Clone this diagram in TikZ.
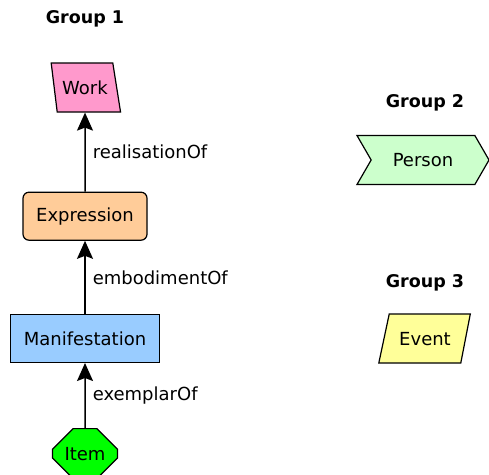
\documentclass[tikz,border=0pt]{standalone}
\usepackage{fontspec}
\setmainfont{DejaVu Sans}
\usepackage{tikz}
\usetikzlibrary{positioning, arrows.meta, shapes.geometric, shapes.symbols, shapes.misc}

\begin{document}
\begin{tikzpicture}[x=1pt, y=1pt, node distance=73pt,
font=\fontsize{18}{21}\selectfont,
box/.style={draw, line width=1.2pt, minimum height=48pt, align=center, inner sep=0pt},
slanted/.style={box, trapezium, text height=13pt, text depth=0pt, inner ysep=18pt},
group/.style={font=\fontsize{17.5}{21}\selectfont\bfseries},
arrow/.style={line width=1.5pt, -{Stealth[length=18pt, width=16pt, inset=3pt]}},
rel/.style={midway, right=7pt, inner sep=0pt} ]

% Define colors
\definecolor{workpink}{RGB}{255, 153, 204}
\definecolor{exprorange}{RGB}{255, 204, 153}
\definecolor{manifblue}{RGB}{153, 204, 255}
\definecolor{itemgreen}{RGB}{0, 255, 0}
\definecolor{persongreen}{RGB}{204, 255, 204}
\definecolor{eventyellow}{RGB}{255, 255, 153}

\useasboundingbox (0,0) rectangle (489,-474);

% Group 1
\node[group] (g1) at (85,-19) {Group 1};
\node[slanted, fill=workpink, inner xsep=5pt, trapezium left angle=97, trapezium right angle=81] (work) at (85,-87.5) {Work};
\node[box, fill=exprorange, rounded corners=6pt, minimum width=124pt, below=79pt of work] (expr) {Expression};
\node[box, fill=manifblue, minimum width=149pt, below=of expr] (manif) {Manifestation};
\node[box, fill=itemgreen, chamfered rectangle, chamfered rectangle xsep=15pt, chamfered rectangle ysep=14pt, minimum width=65pt, minimum height=50pt, below=65pt of manif] (item) {Item};

% Group 2
\node[group] (g2) at (425,-103) {Group 2};
\node[box, fill=persongreen, signal, signal to=east, signal from=west, signal pointer angle=120, minimum width=132pt, minimum height=49pt] (person) at (423,-160) {Person};

% Group 3
\node[group] (g3) at (425,-283) {Group 3};
\node[slanted, fill=eventyellow, inner xsep=10pt, trapezium left angle=78, trapezium right angle=101] (event) at (425,-338.5) {Event};

% Arrows
\draw[arrow] (expr) -- node[rel] {realisationOf} (work);
\draw[arrow] (manif) -- node[rel] {embodimentOf} (expr);
\draw[arrow] (item) -- node[rel] {exemplarOf} (manif);

\end{tikzpicture}
\end{document}
